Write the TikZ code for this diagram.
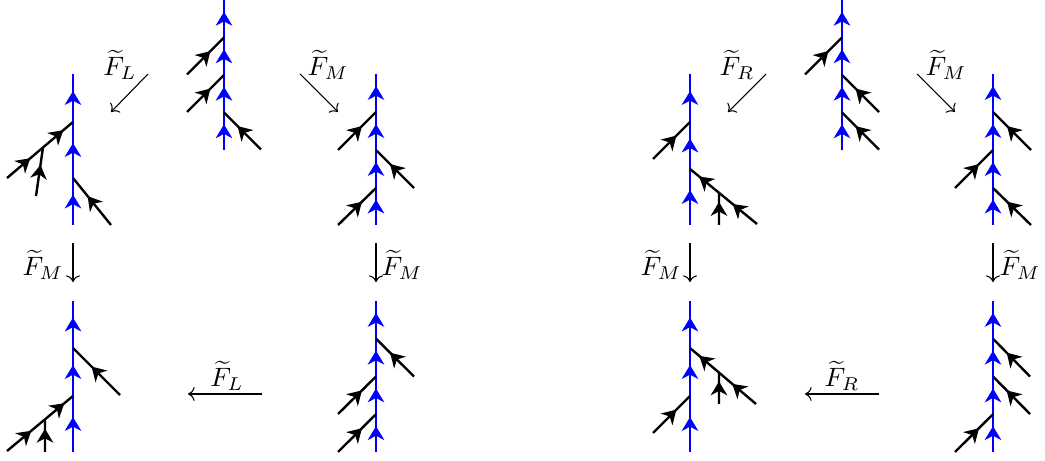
\documentclass[tikz,border=0pt]{standalone}
\usepackage{amsmath}
\usetikzlibrary{arrows.meta,decorations.markings,calc}
\tikzset{
  midarr/.style={postaction={decorate},decoration={markings,mark=at position 0.5 with {\pgftransformxshift{2.6pt}\arrow{Stealth[length=5.2pt,width=6.2pt,inset=1.6pt]}}}},
  bl/.style={draw=blue,line width=0.85pt,midarr},
  bk/.style={draw=black,line width=0.9pt,midarr},
  lab/.style={inner sep=0pt},
  mor/.style={->,line width=0.4pt}
}
\begin{document}
\begin{tikzpicture}[x=0.376pt,y=-0.376pt]
\useasboundingbox (0,0) rectangle (1045,461);
% ---------------- Diagram A ----------------
\coordinate (aT) at (73,74); \coordinate (aB) at (73,225);
\coordinate (aJ1) at (73,122); \coordinate (aJ2) at (73,178);
\coordinate (aE1) at (7,178); \coordinate (aS) at ($(aJ1)!0.4545!(aE1)$);
\coordinate (aE1s) at (36,196); \coordinate (aE2) at (111,225);
\draw[bl] (aB) -- (aJ2); \draw[bl] (aJ2) -- (aJ1); \draw[bl] (aJ1) -- (aT);
\draw[bk] (aE1) -- (aS); \draw[bk] (aS) -- (aJ1); \draw[bk] (aE1s) -- (aS);
\draw[bk] (aE2) -- (aJ2);
% ---------------- Diagram B ----------------
\coordinate (bT) at (224,0); \coordinate (bB) at (224,150);
\coordinate (bJ1) at (224,37.5); \coordinate (bJ2) at (224,75); \coordinate (bJ3) at (224,112.5);
\coordinate (bE1) at (187,74.5); \coordinate (bE2) at (187,112); \coordinate (bE3) at (261,149.5);
\draw[bl] (bB) -- (bJ3); \draw[bl] (bJ3) -- (bJ2); \draw[bl] (bJ2) -- (bJ1); \draw[bl] (bJ1) -- (bT);
\draw[bk] (bE1) -- (bJ1); \draw[bk] (bE2) -- (bJ2); \draw[bk] (bE3) -- (bJ3);
% ---------------- Diagram C ----------------
\coordinate (cT) at (376,74); \coordinate (cB) at (376,225);
\coordinate (cJ1) at (376,112); \coordinate (cJ2) at (376,150); \coordinate (cJ3) at (376,188);
\coordinate (cE1) at (338,150); \coordinate (cE2) at (414,188); \coordinate (cE3) at (338,225);
\draw[bl] (cB) -- (cJ3); \draw[bl] (cJ3) -- (cJ2); \draw[bl] (cJ2) -- (cJ1); \draw[bl] (cJ1) -- (cT);
\draw[bk] (cE1) -- (cJ1); \draw[bk] (cE2) -- (cJ2); \draw[bk] (cE3) -- (cJ3);
% ---------------- Diagram D ----------------
\coordinate (dT) at (73,301); \coordinate (dB) at (73,452);
\coordinate (dJ1) at (73,348); \coordinate (dJ2) at (73,396);
\coordinate (dE1) at (120,395); \coordinate (dE2) at (7,451);
\coordinate (dS) at ($(dJ2)!0.4242!(dE2)$); \coordinate (dE2s) at (45,452);
\draw[bl] (dB) -- (dJ2); \draw[bl] (dJ2) -- (dJ1); \draw[bl] (dJ1) -- (dT);
\draw[bk] (dE1) -- (dJ1); \draw[bk] (dE2) -- (dS); \draw[bk] (dS) -- (dJ2); \draw[bk] (dE2s) -- (dS);
% ---------------- Diagram E ----------------
\coordinate (eT) at (376,301); \coordinate (eB) at (376,452);
\coordinate (eJ1) at (376,338.7); \coordinate (eJ2) at (376,376.5); \coordinate (eJ3) at (376,414.2);
\coordinate (eE1) at (414,376.5); \coordinate (eE2) at (338,414); \coordinate (eE3) at (338,452);
\draw[bl] (eB) -- (eJ3); \draw[bl] (eJ3) -- (eJ2); \draw[bl] (eJ2) -- (eJ1); \draw[bl] (eJ1) -- (eT);
\draw[bk] (eE1) -- (eJ1); \draw[bk] (eE2) -- (eJ2); \draw[bk] (eE3) -- (eJ3);
% ---------------- Diagram A' ----------------
\coordinate (fT) at (690,74); \coordinate (fB) at (690,225);
\coordinate (fJ1) at (690,122); \coordinate (fJ2) at (690,169);
\coordinate (fE1) at (653,159); \coordinate (fE2) at (757,224);
\coordinate (fS) at ($(fJ2)!0.433!(fE2)$); \coordinate (fE2s) at (719,225);
\draw[bl] (fB) -- (fJ2); \draw[bl] (fJ2) -- (fJ1); \draw[bl] (fJ1) -- (fT);
\draw[bk] (fE1) -- (fJ1); \draw[bk] (fE2) -- (fS); \draw[bk] (fS) -- (fJ2); \draw[bk] (fE2s) -- (fS);
% ---------------- Diagram B' ----------------
\coordinate (gT) at (842,0); \coordinate (gB) at (842,150);
\coordinate (gJ1) at (842,37.5); \coordinate (gJ2) at (842,75); \coordinate (gJ3) at (842,112.5);
\coordinate (gE1) at (805,74.5); \coordinate (gE2) at (879,112); \coordinate (gE3) at (879,149.5);
\draw[bl] (gB) -- (gJ3); \draw[bl] (gJ3) -- (gJ2); \draw[bl] (gJ2) -- (gJ1); \draw[bl] (gJ1) -- (gT);
\draw[bk] (gE1) -- (gJ1); \draw[bk] (gE2) -- (gJ2); \draw[bk] (gE3) -- (gJ3);
% ---------------- Diagram C' ----------------
\coordinate (hT) at (993,74); \coordinate (hB) at (993,225);
\coordinate (hJ1) at (993,112); \coordinate (hJ2) at (993,150); \coordinate (hJ3) at (993,188);
\coordinate (hE1) at (1031,150); \coordinate (hE2) at (955,188); \coordinate (hE3) at (1031,225);
\draw[bl] (hB) -- (hJ3); \draw[bl] (hJ3) -- (hJ2); \draw[bl] (hJ2) -- (hJ1); \draw[bl] (hJ1) -- (hT);
\draw[bk] (hE1) -- (hJ1); \draw[bk] (hE2) -- (hJ2); \draw[bk] (hE3) -- (hJ3);
% ---------------- Diagram D' ----------------
\coordinate (iT) at (690,301); \coordinate (iB) at (690,452);
\coordinate (iJ1) at (690,348); \coordinate (iJ2) at (690,396);
\coordinate (iE1) at (756,404); \coordinate (iE2) at (653,433);
\coordinate (iS) at ($(iJ1)!0.44!(iE1)$); \coordinate (iE1s) at (719,404);
\draw[bl] (iB) -- (iJ2); \draw[bl] (iJ2) -- (iJ1); \draw[bl] (iJ1) -- (iT);
\draw[bk] (iE1) -- (iS); \draw[bk] (iS) -- (iJ1); \draw[bk] (iE1s) -- (iS); \draw[bk] (iE2) -- (iJ2);
% ---------------- Diagram E' ----------------
\coordinate (kT) at (993,301); \coordinate (kB) at (993,452);
\coordinate (kJ1) at (993,338.7); \coordinate (kJ2) at (993,376.5); \coordinate (kJ3) at (993,414.2);
\coordinate (kE1) at (1030,376.5); \coordinate (kE2) at (1030,414); \coordinate (kE3) at (955,452);
\draw[bl] (kB) -- (kJ3); \draw[bl] (kJ3) -- (kJ2); \draw[bl] (kJ2) -- (kJ1); \draw[bl] (kJ1) -- (kT);
\draw[bk] (kE1) -- (kJ1); \draw[bk] (kE2) -- (kJ2); \draw[bk] (kE3) -- (kJ3);
% ---------------- Map arrows, left ----------------
\coordinate (m1s) at (148,74); \coordinate (m1e) at (111,112);
\coordinate (m2s) at (300,74); \coordinate (m2e) at (338,112);
\coordinate (m3s) at (73,243); \coordinate (m3e) at (73,282);
\coordinate (m4s) at (376,243); \coordinate (m4e) at (376,282);
\coordinate (m5s) at (262,394); \coordinate (m5e) at (188,394);
\draw[mor] (m1s) -- (m1e); \node[lab] (l1) at (120,65) {$\widetilde{F}_L$};
\draw[mor] (m2s) -- (m2e); \node[lab] (l2) at (328,65) {$\widetilde{F}_M$};
\draw[mor] (m3s) -- (m3e); \node[lab] (l3) at (43,265) {$\widetilde{F}_M$};
\draw[mor] (m4s) -- (m4e); \node[lab] (l4) at (402,265) {$\widetilde{F}_M$};
\draw[mor] (m5s) -- (m5e); \node[lab] (l5) at (227,376) {$\widetilde{F}_L$};
% ---------------- Map arrows, right ----------------
\coordinate (n1s) at (766,74); \coordinate (n1e) at (728,112);
\coordinate (n2s) at (917,74); \coordinate (n2e) at (955,112);
\coordinate (n3s) at (690,243); \coordinate (n3e) at (690,282);
\coordinate (n4s) at (993,243); \coordinate (n4e) at (993,282);
\coordinate (n5s) at (879,394); \coordinate (n5e) at (805,394);
\draw[mor] (n1s) -- (n1e); \node[lab] (r1) at (737,65) {$\widetilde{F}_R$};
\draw[mor] (n2s) -- (n2e); \node[lab] (r2) at (946,65) {$\widetilde{F}_M$};
\draw[mor] (n3s) -- (n3e); \node[lab] (r3) at (661,265) {$\widetilde{F}_M$};
\draw[mor] (n4s) -- (n4e); \node[lab] (r4) at (1020,265) {$\widetilde{F}_M$};
\draw[mor] (n5s) -- (n5e); \node[lab] (r5) at (842,376) {$\widetilde{F}_R$};
\end{tikzpicture}
\end{document}
